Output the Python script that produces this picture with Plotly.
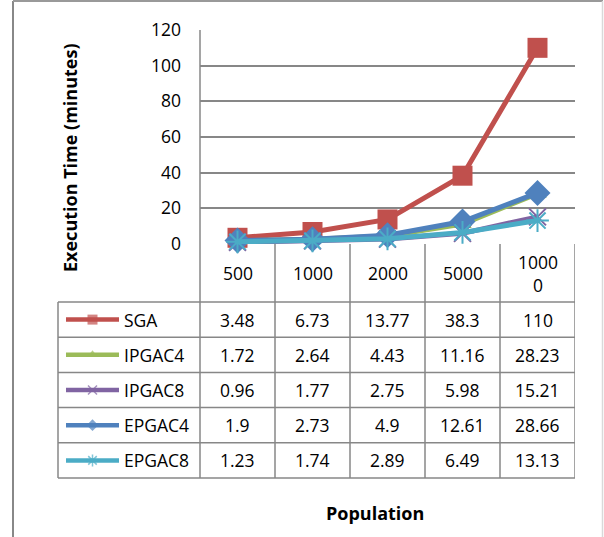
import plotly.graph_objects as go

# Population sizes (categories) and execution times in minutes
populations = ["500", "1000", "2000", "5000", "10000"]
series_names = ["SGA", "IPGAC4", "IPGAC8", "EPGAC4", "EPGAC8"]
sga = [3.48, 6.73, 13.77, 38.3, 110]
ipgac4 = [1.72, 2.64, 4.43, 11.16, 28.23]
ipgac8 = [0.96, 1.77, 2.75, 5.98, 15.21]
epgac4 = [1.9, 2.73, 4.9, 12.61, 28.66]
epgac8 = [1.23, 1.74, 2.89, 6.49, 13.13]
y_ticks = [0, 20, 40, 60, 80, 100, 120]

series_values = [sga, ipgac4, ipgac8, epgac4, epgac8]
colors = ["#C0504D", "#9BBB59", "#8064A2", "#4F81BD", "#4BACC6"]
symbols = ["square", "triangle-up", "x-thin-open", "diamond", "asterisk-open"]
sizes = [20, 16, 17, 20, 19]
mini_sizes = [10, 9, 9, 9, 10]

W, H = 604, 537
FONT = "Open Sans"
FS = 17.5
GRID = "#878787"

# page geometry in pixels
plot_left, plot_right = 200, 575
plot_top, plot_bottom = 30, 244
header_bottom = 302
row_h = 35.2
legend_left = 58


def py(px):
    return 1 - px / H


def pxx(px):
    return px / W


def text_note(text, x, y, xref="paper", xanchor="center", size=FS, angle=0):
    return dict(xref=xref, yref="paper", x=x, y=y, text=text,
                xanchor=xanchor, yanchor="middle", textangle=angle,
                showarrow=False,
                font=dict(family=FONT, size=size, color="#000000"))


fig = go.Figure()
x_idx = list(range(len(populations)))

for name, vals, col, sym, sz in zip(series_names, series_values, colors, symbols, sizes):
    open_sym = sym.endswith("open")
    fig.add_trace(go.Scatter(
        x=x_idx, y=vals, name=name, mode="lines+markers",
        line=dict(color=col, width=5),
        marker=dict(symbol=sym, size=sz, color=col,
                    line=dict(color=col, width=2 if open_sym else 0)),
        showlegend=False, cliponaxis=False,
    ))

shapes = []
annotations = []

# vertical table lines: legend column edge, axis line, column boundaries
shapes.append(dict(type="line", xref="paper", yref="paper",
                   x0=pxx(legend_left), x1=pxx(legend_left),
                   y0=py(header_bottom), y1=py(header_bottom + 5 * row_h),
                   line=dict(color=GRID, width=1.5)))
shapes.append(dict(type="line", xref="paper", yref="paper",
                   x0=pxx(plot_left), x1=pxx(plot_left),
                   y0=py(plot_top), y1=py(header_bottom + 5 * row_h),
                   line=dict(color=GRID, width=1.5)))
for i in range(1, len(populations) + 1):
    shapes.append(dict(type="line", xref="x", yref="paper",
                       x0=i - 0.5, x1=i - 0.5,
                       y0=py(plot_bottom), y1=py(header_bottom + 5 * row_h),
                       line=dict(color=GRID, width=1.5)))
# horizontal table lines
for r in range(len(series_names) + 1):
    yy = py(header_bottom + r * row_h)
    shapes.append(dict(type="line", xref="paper", yref="paper",
                       x0=pxx(legend_left), x1=pxx(plot_right), y0=yy, y1=yy,
                       line=dict(color=GRID, width=1.5)))

# outer chart border
shapes.append(dict(type="line", xref="paper", yref="paper",
                   x0=pxx(13), x1=pxx(13), y0=py(1), y1=py(H),
                   line=dict(color="#888888", width=2)))
shapes.append(dict(type="line", xref="paper", yref="paper",
                   x0=pxx(13), x1=pxx(603), y0=py(1), y1=py(1),
                   line=dict(color="#999999", width=2)))
shapes.append(dict(type="line", xref="paper", yref="paper",
                   x0=pxx(602.5), x1=pxx(602.5), y0=py(1), y1=py(H),
                   line=dict(color="#d9d9d9", width=1.5)))

# header row with population labels (wrapped like the narrow cell does)
for i, p in enumerate(populations):
    label = p if len(p) <= 4 else p[:4] + "<br>" + p[4:]
    annotations.append(text_note(label, i, py((plot_bottom + header_bottom) / 2),
                                 xref="x"))

# data rows
for r, (name, vals) in enumerate(zip(series_names, series_values)):
    yc = py(header_bottom + (r + 0.5) * row_h)
    annotations.append(text_note(name, pxx(122), yc, xanchor="left"))
    for i, v in enumerate(vals):
        annotations.append(text_note(f"{v:g}", i, yc, xref="x"))

# legend keys drawn on a pixel-scaled helper axis pair
for r, (name, col, sym, msz) in enumerate(zip(series_names, colors, symbols, mini_sizes)):
    yc = header_bottom + (r + 0.5) * row_h
    open_sym = sym.endswith("open")
    fig.add_trace(go.Scatter(
        x=[66, 92.5, 119], y=[yc, yc, yc], mode="lines+markers",
        line=dict(color=col, width=4.5),
        marker=dict(symbol=sym, size=[0, msz, 0], color=col,
                    line=dict(color=col, width=1.5 if open_sym else 0)),
        xaxis="x2", yaxis="y2", showlegend=False, hoverinfo="skip",
    ))

# axis titles
annotations.append(text_note("<b>Execution Time (minutes)</b>", pxx(70), py(158),
                             size=18, angle=-90))
annotations.append(text_note("<b>Population</b>", pxx(375), py(513), size=18))

fig.update_layout(
    width=W, height=H,
    margin=dict(l=0, r=0, t=0, b=0, pad=0),
    paper_bgcolor="white", plot_bgcolor="rgba(0,0,0,0)",
    xaxis=dict(domain=[pxx(plot_left), pxx(plot_right)], range=[-0.5, 4.5],
               showgrid=False, zeroline=False, showticklabels=False,
               showline=False, fixedrange=True, automargin=False),
    yaxis=dict(domain=[py(plot_bottom), py(plot_top)], range=[0, 120],
               tickvals=y_ticks, showgrid=True, gridcolor=GRID, gridwidth=1.5,
               zeroline=False, showline=False, ticks="",
               ticklabelstandoff=18, automargin=False,
               tickfont=dict(family=FONT, size=FS, color="#000000")),
    xaxis2=dict(domain=[0, 1], range=[0, W], visible=False, anchor="y2",
                automargin=False),
    yaxis2=dict(domain=[0, 1], range=[H, 0], visible=False, anchor="x2",
                automargin=False),
    shapes=shapes,
    annotations=annotations,
    showlegend=False,
)

fig.write_html("out.html")
